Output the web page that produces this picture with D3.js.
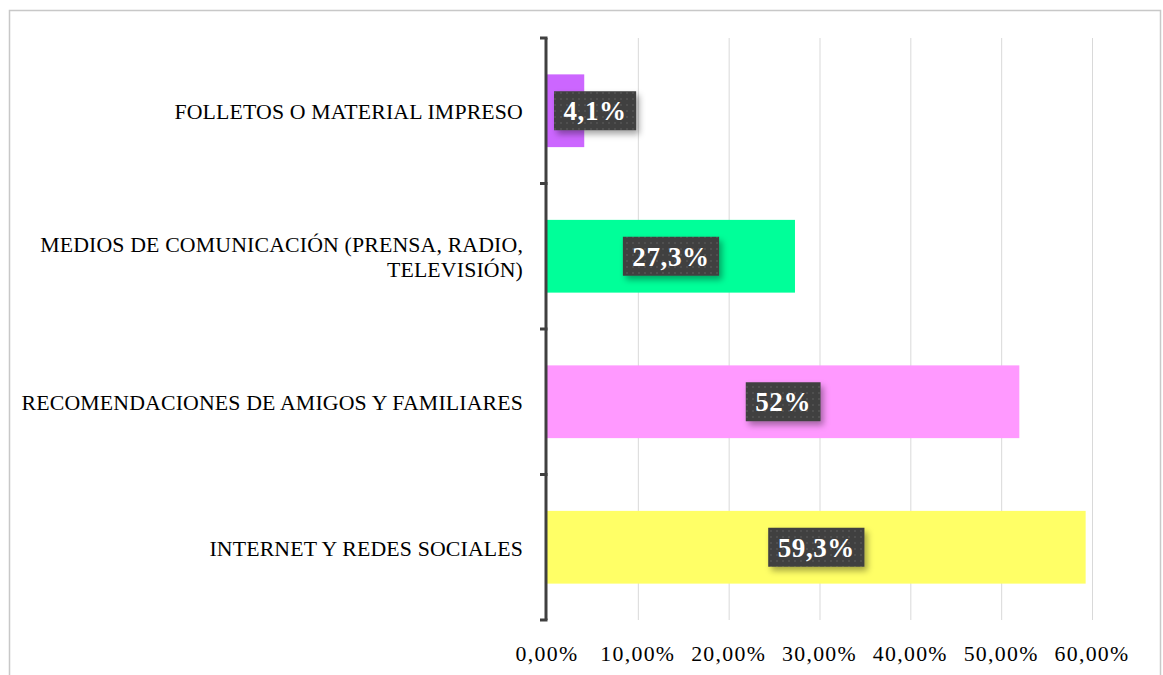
<!DOCTYPE html>
<html><head><meta charset="utf-8">
<script src="https://cdn.jsdelivr.net/npm/d3@7"></script>
<style>body{margin:0;background:#fff}svg{display:block}</style>
</head><body><svg id="c" width="1163" height="675"></svg>
<script>
const categories = [
  ["FOLLETOS O MATERIAL IMPRESO"],
  ["MEDIOS DE COMUNICACIÓN (PRENSA, RADIO,", "TELEVISIÓN)"],
  ["RECOMENDACIONES DE AMIGOS Y FAMILIARES"],
  ["INTERNET Y REDES SOCIALES"]
];
const values = [4.1, 27.3, 52, 59.3];
const valueLabels = ["4,1%", "27,3%", "52%", "59,3%"];
const colors = ["#CC66FF", "#00FF99", "#FF99FF", "#FFFF66"];
const tickValues = [0, 10, 20, 30, 40, 50, 60];
const tickLabels = ["0,00%", "10,00%", "20,00%", "30,00%", "40,00%", "50,00%", "60,00%"];

const svg = d3.select("#c");
const font = "'Liberation Serif', 'DejaVu Serif', serif";
const defs = svg.append("defs");
const pat = defs.append("pattern").attr("id","dots").attr("width",6).attr("height",6).attr("patternUnits","userSpaceOnUse");
pat.append("rect").attr("width",6).attr("height",6).attr("fill","#404040");
pat.append("circle").attr("cx",3).attr("cy",3).attr("r",1).attr("fill","#555");
const f = defs.append("filter").attr("id","sh").attr("x","-20%").attr("y","-20%").attr("width","150%").attr("height","170%");
f.append("feDropShadow").attr("dx",3).attr("dy",4).attr("stdDeviation",3).attr("flood-color","#000").attr("flood-opacity",0.35);

// outer border
svg.append("rect").attr("x",9.5).attr("y",10.5).attr("width",1151).attr("height",700)
  .attr("fill","none").attr("stroke","#c8c8c8").attr("stroke-width",1.5);

const x = d3.scaleLinear().domain([0,60]).range([547,1092]);
const y = d3.scaleBand().domain(d3.range(categories.length)).range([38,620]).paddingInner(0.5).paddingOuter(0.25);
const bandStep = y.step();

// gridlines
svg.append("g").selectAll("line").data(tickValues.slice(1)).join("line")
  .attr("x1",d=>x(d)+0.5).attr("x2",d=>x(d)+0.5).attr("y1",38).attr("y2",620)
  .attr("stroke","#d9d9d9").attr("stroke-width",1);

// bars
svg.append("g").selectAll("rect").data(values).join("rect")
  .attr("x",x(0)).attr("y",(d,i)=>y(i)).attr("width",d=>x(d)-x(0)).attr("height",y.bandwidth())
  .attr("fill",(d,i)=>colors[i]);

// y axis line with ticks
const yAxisG = svg.append("g");
yAxisG.append("line").attr("x1",546).attr("x2",546).attr("y1",38).attr("y2",620).attr("stroke","#404040").attr("stroke-width",3);
const bounds = d3.range(categories.length+1).map(i=>38+i*bandStep);
yAxisG.selectAll("line.t").data(bounds).join("line").attr("class","t")
  .attr("x1",540).attr("x2",547.5).attr("y1",d=>d).attr("y2",d=>d).attr("stroke","#404040").attr("stroke-width",3);

// category labels
const lab = svg.append("g").attr("font-family",font).attr("font-size",21.8).attr("letter-spacing",0.15).attr("fill","#000").attr("text-anchor","end");
categories.forEach((lines,i)=>{
  const cy = y(i)+y.bandwidth()/2 + 1;
  const lh = 25;
  const start = cy - (lines.length-1)*lh/2;
  lines.forEach((t,j)=>{
    lab.append("text").attr("x",523).attr("y",start+j*lh).attr("dy","0.35em").text(t);
  });
});

// x tick labels
svg.append("g").selectAll("text").data(tickValues).join("text")
  .attr("x",d=>x(d)).attr("y",653).attr("dy","0.35em").attr("text-anchor","middle")
  .attr("font-family",font).attr("font-size",21.8).attr("letter-spacing",1.3).attr("fill","#000")
  .text((d,i)=>tickLabels[i]);

// value labels
const vg = svg.append("g");
values.forEach((v,i)=>{
  const cy = y(i)+y.bandwidth()/2;
  const t = vg.append("text").attr("font-family",font).attr("font-size",27).attr("font-weight","bold")
    .attr("letter-spacing",0.6)
    .attr("fill","#fff").attr("text-anchor","middle").attr("dy","0.35em").text(valueLabels[i]);
  const w = t.node().getComputedTextLength() + 19;
  let cx = (x(0)+x(v))/2;
  if (cx - w/2 < x(0)+7) cx = x(0)+7+w/2;
  t.attr("x",cx).attr("y",cy);
  vg.insert("rect","text").attr("x",cx-w/2).attr("y",cy-19.5).attr("width",w).attr("height",39)
    .attr("fill","url(#dots)").attr("filter","url(#sh)");
});
</script></body></html>
